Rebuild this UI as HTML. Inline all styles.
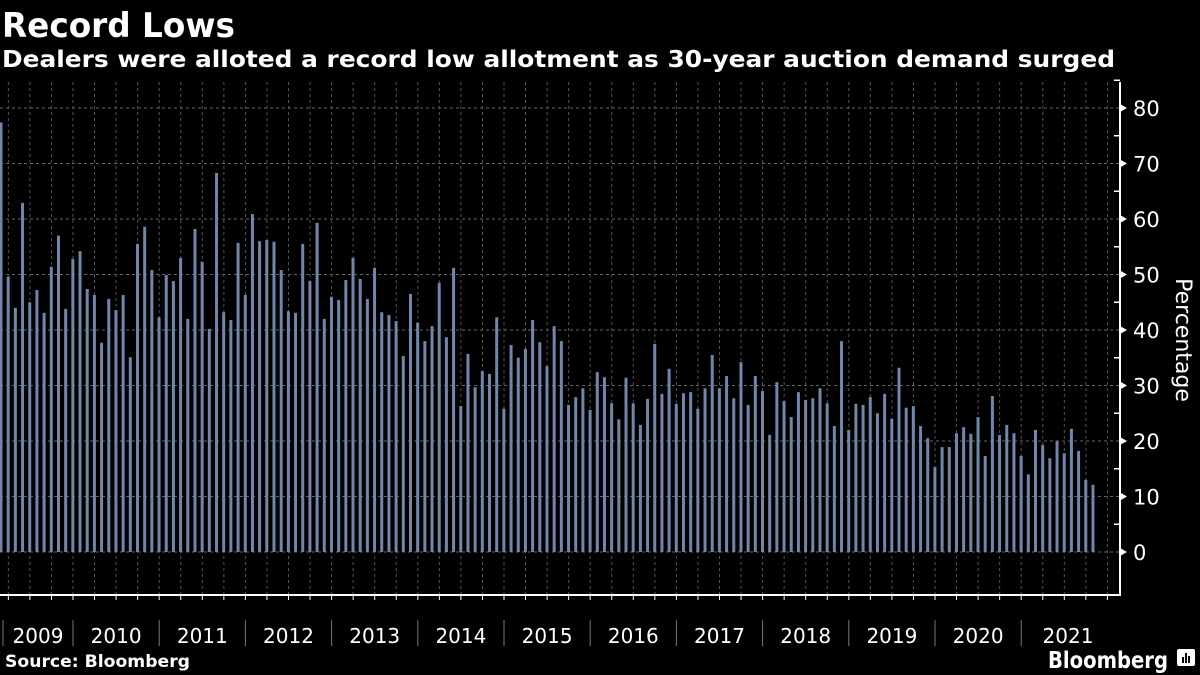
<!DOCTYPE html>
<html><head><meta charset="utf-8"><style>
html,body{margin:0;padding:0;background:#000;width:1200px;height:675px;overflow:hidden}
svg{display:block}
</style></head><body>
<svg id="chart" width="1200" height="675" xmlns="http://www.w3.org/2000/svg" font-family="'DejaVu Sans','Liberation Sans',sans-serif">
<rect width="1200" height="675" fill="#000"/>
<text x="2" y="37" fill="#fff" font-size="34" font-weight="bold" textLength="233" lengthAdjust="spacingAndGlyphs">Record Lows</text>
<text x="2" y="67" fill="#fff" font-size="23" font-weight="bold" textLength="1113" lengthAdjust="spacingAndGlyphs">Dealers were alloted a record low allotment as 30-year auction demand surged</text>
<g id="grid"></g>
<g id="bars"></g>
<g id="axes"></g>
<text transform="translate(1176,340) rotate(90)" fill="#fff" font-size="22" text-anchor="middle">Percentage</text>
<text x="5" y="667" fill="#fff" font-size="17" font-weight="bold" textLength="185" lengthAdjust="spacingAndGlyphs">Source: Bloomberg</text>
<text x="1168" y="668" fill="#fff" font-size="23" font-weight="bold" text-anchor="end" textLength="120" lengthAdjust="spacingAndGlyphs">Bloomberg</text>
<g>
<rect x="1177" y="649" width="18" height="17" rx="2" fill="#fff"/>
<rect x="1182" y="657" width="2" height="6" fill="#000"/><rect x="1185" y="653" width="2" height="10" fill="#000"/><rect x="1188" y="656" width="2" height="7" fill="#000"/>
</g>
</svg>
<script>
const values = [77.4,49.6,44,62.9,45,47.2,43.1,51.4,57,43.8,52.8,54.2,47.4,46.3,37.7,45.6,43.6,46.3,35.1,55.5,58.6,50.8,42.3,49.9,48.8,53,42,58.2,52.3,40.2,68.3,43.2,41.8,55.7,46.3,60.9,56,56.2,55.9,50.8,43.4,43.1,55.5,48.8,59.3,42,46,45.4,49,53,49.2,45.6,51.2,43.2,42.7,41.6,35.3,46.5,41.3,38,40.7,48.5,38.7,51.2,26.3,35.7,29.7,32.6,32.1,42.3,25.8,37.3,35,36.6,41.8,37.8,33.5,40.7,38,26.5,27.9,29.5,25.6,32.4,31.5,26.8,23.9,31.4,26.8,22.9,27.6,37.5,28.5,33,26.7,28.6,28.8,25.8,29.5,35.5,29.5,31.7,27.7,34.2,26.5,31.7,29,21.1,30.6,27.2,24.3,28.8,27.4,27.7,29.5,26.8,22.7,38,22,26.7,26.5,27.9,25,28.5,24,33.2,26,26.3,22.7,20.5,15.3,18.9,18.9,21.4,22.5,21.3,24.3,17.3,28.1,21.1,22.9,21.4,17.3,14,22,19.3,16.9,20,17.8,22.2,18.2,13,12.1];
const yTicks = [0,10,20,30,40,50,60,70,80];
const years = ["2009","2010","2011","2012","2013","2014","2015","2016","2017","2018","2019","2020","2021"];
const NS="http://www.w3.org/2000/svg";
const y = v => 552 - v*5.55;
const x = i => 1 + i*7.184;
const yearX = k => 73 + (k-1)*86.2;
function mk(tag, attrs, parent){const e=document.createElementNS(NS,tag);for(const k in attrs)e.setAttribute(k,attrs[k]);parent.appendChild(e);return e;}
const grid=document.getElementById('grid'), bars=document.getElementById('bars'), axes=document.getElementById('axes');
yTicks.forEach(t=>{
  const l=mk('line',{x1:0,x2:1120,y1:y(t),y2:y(t),stroke:'#666','stroke-width':1,'stroke-dasharray':'3,3'},grid);
  
  
  const lab=mk('text',{x:1133,y:y(t)+8,fill:'#fff','font-size':21},axes);
  lab.textContent=t;
  
  
  mk('path',{d:`M1120 ${y(t)-4} L1127 ${y(t)} L1120 ${y(t)+4} Z`,fill:'#fff'},axes);
  mk('line',{x1:1114,x2:1120,y1:y(t+5),y2:y(t+5),stroke:'#fff','stroke-width':1.5},axes);
});
for(let gx=8.35; gx<1120; gx+=21.55){
  const l=mk('line',{x1:gx,x2:gx,y1:82,y2:595,stroke:'#555','stroke-width':1,'stroke-dasharray':'3,3'},grid);
  
  
  mk('line',{x1:gx,x2:gx,y1:595,y2:600,stroke:'#fff','stroke-width':1},axes);
}
values.forEach((v,i)=>{
  const r=mk('rect',{x:x(i)-1.5,y:y(v),width:3,height:y(0)-y(v),fill:'#6f87ab'},bars);
  
  
});
mk('line',{x1:1120,x2:1120,y1:82,y2:596,stroke:'#fff','stroke-width':2},axes);
mk('line',{x1:0,x2:1121,y1:595,y2:595,stroke:'#fff','stroke-width':2},axes);
years.forEach((yr,k)=>{
  const left=k===0?3:yearX(k);
  const sep=mk('line',{x1:left,x2:left,y1:620,y2:646,stroke:'#777','stroke-width':1},axes);
  
  
  const right=yearX(k+1);
  const cx=k===years.length-1?1068:(left+right)/2;
  const t=mk('text',{x:cx,y:643,fill:'#fff','font-size':20,'text-anchor':'middle'},axes);
  t.textContent=yr;
  
  
});
</script>
</body></html>
